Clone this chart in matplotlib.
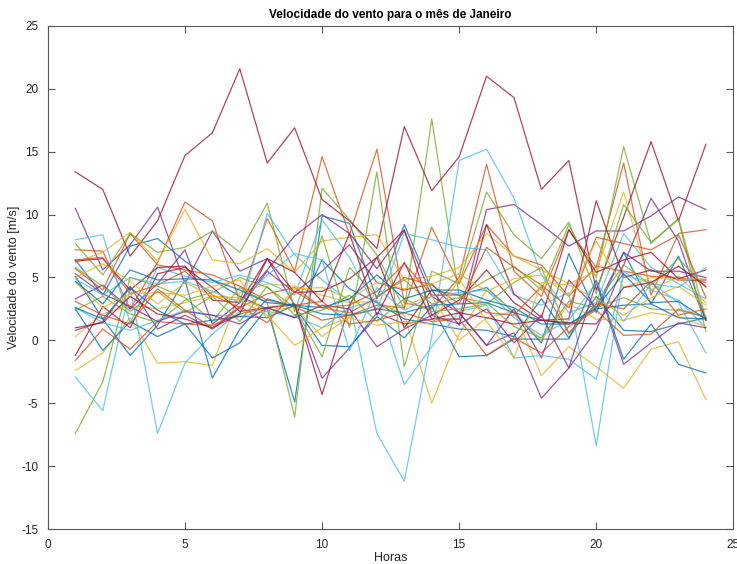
import numpy as np
import matplotlib.pyplot as plt

# Hours of the day (x axis)
horas = list(range(1, 25))

# Wind speed per hour for each day of January [m/s]
dia01 = [6.4, 3.6, 7.5, 8.1, 6.3, 4.8, 3.5, 2.5, -4.9, 9.9, 9.3, 3.3, 9.2, 4.0, 3.6, 4.2, 2.2, -0.2, 6.9, 2.2, 7.0, 2.9, 6.7, 1.6]
dia02 = [7.2, 7.1, 2.5, 6.2, 11.0, 9.5, 3.1, 9.7, 5.5, 14.6, 8.4, 15.2, 3.0, 2.5, 5.0, 14.0, 5.5, 3.5, 8.8, 5.8, 14.1, 3.6, 8.5, 8.8]
dia03 = [-2.4, -1.0, 1.8, -1.8, -1.7, -2.0, 3.8, 4.5, 4.3, 3.6, 3.0, 3.1, 2.0, -5.0, 0.5, 4.0, 2.3, -2.8, -0.5, -2.1, -3.8, -0.7, -0.1, -4.7]
dia04 = [10.5, 5.6, 7.6, 10.6, 4.5, 8.7, 5.5, 6.5, 2.8, -3.0, -0.6, 2.2, 1.3, 1.7, 1.7, 10.4, 10.8, 9.2, 7.5, 8.7, 8.7, 9.9, 11.4, 10.4]
dia05 = [-7.4, -3.3, 5.0, 4.3, 3.4, 1.5, 4.2, 3.0, -6.1, 12.1, 9.6, 6.8, 2.5, 17.6, 3.5, 4.8, 5.9, 4.0, 9.2, 5.0, 15.4, 7.7, 9.7, 1.7]
dia06 = [-2.9, -5.6, 4.2, -7.4, -1.8, 0.5, 2.3, 10.1, 6.8, 4.8, 3.1, -7.4, -11.2, 0.3, 14.3, 15.2, 11.3, 5.2, 2.2, 3.0, 8.5, 5.8, 4.5, 3.3]
dia07 = [13.4, 12.0, 6.7, 9.5, 14.7, 16.5, 21.6, 14.1, 16.9, 11.2, 9.5, 7.3, 17.0, 11.9, 14.6, 21.0, 19.3, 12.0, 14.3, 4.0, 9.8, 15.8, 9.5, 15.6]
dia08 = [2.5, -0.8, 1.5, 0.3, 1.3, -1.4, -0.2, 2.6, 1.8, 6.4, 4.1, 3.0, 1.7, 1.3, 0.9, 0.8, 0.3, 3.3, 0.2, 3.5, 0.8, 0.7, 1.3, 1.8]
dia09 = [5.7, 4.0, 8.5, 6.0, 5.6, 5.2, 4.3, 3.2, 2.7, 1.6, 2.0, 2.8, 2.6, 9.0, 4.5, 9.2, 6.7, 6.0, 3.5, 5.9, 5.5, 5.1, 5.0, 4.6]
dia10 = [6.2, 7.0, 8.6, 6.3, 10.4, 6.4, 6.1, 7.3, 5.4, 7.9, 8.2, 8.4, 4.8, 5.1, 5.8, 8.5, 6.7, 5.6, 4.5, 5.5, 11.8, 4.0, 5.1, 3.0]
dia11 = [3.3, 4.4, 2.5, 4.5, 7.2, 1.3, 3.0, 5.6, 8.3, 10.0, 8.5, 5.7, 8.7, 3.5, 2.2, -0.4, 0.6, -4.6, -2.2, 0.8, 6.0, 11.3, 7.9, 1.6]
dia12 = [7.7, 5.2, 8.5, 7.0, 7.4, 8.7, 7.0, 10.9, 2.3, 8.3, 1.0, 13.4, -2.1, 5.5, 4.5, 11.8, 8.4, 6.5, 9.4, 3.7, 10.8, 7.8, 9.6, 0.7]
dia13 = [8.0, 8.4, 1.4, 5.8, 5.1, 4.6, 5.2, 4.6, 3.6, 9.6, 6.6, 2.4, 8.5, 8.0, 7.4, 7.2, 3.6, 2.8, 3.8, -8.4, 5.5, 4.0, 3.2, 1.0]
dia14 = [6.3, 6.5, 4.0, 5.8, 5.9, 3.2, 3.0, 6.5, 3.8, 3.9, 4.9, 6.6, 8.8, 2.0, 3.2, 5.6, 3.0, 1.6, 1.7, 11.1, 5.0, 5.6, 4.8, 4.8]
dia15 = [5.1, 1.7, -1.2, 1.2, 4.8, -3.0, 0.9, 3.3, 2.7, -0.4, -0.5, 1.9, 0.2, 2.7, -1.3, -1.2, 0.1, 0.1, 0.1, 4.8, -1.5, 1.3, -1.9, -2.6]
dia16 = [-1.6, 0.9, -0.7, 1.5, 1.3, 1.2, 2.1, 2.6, 2.8, 3.1, 1.3, 1.6, 2.2, 1.5, 1.7, -1.2, 0.2, -1.0, 1.1, 2.4, 0.4, 0.5, 2.5, 1.8]
dia17 = [0.3, 2.1, 2.8, 2.5, 3.0, 3.5, 3.4, 2.4, 2.6, 0.3, 1.9, 2.5, 2.8, 3.5, 0.0, 1.8, 2.3, 0.0, 2.9, 1.7, 1.6, 2.2, 1.9, 1.1]
dia18 = [0.8, 1.5, 4.3, 0.9, 2.0, 0.9, 2.6, 5.5, 3.8, 5.5, 7.6, 4.6, 4.0, 4.5, 2.2, -0.4, 2.5, -1.4, 4.8, 2.6, 7.0, 5.5, 5.5, 5.0]
dia19 = [2.4, 3.5, 2.1, 1.4, 3.2, 3.8, 5.0, 4.2, 2.6, -1.3, 5.8, 3.5, 4.8, 2.9, 3.4, 3.0, 1.1, 0.2, 3.1, 2.6, 3.4, 2.5, 2.4, 1.9]
dia20 = [2.6, 1.4, 0.8, 1.6, 2.4, 2.0, 1.9, 2.3, 1.9, 1.0, 2.6, 3.2, -3.5, -0.5, 2.3, 2.8, -1.4, -1.2, -1.5, -3.1, 5.2, 4.6, 3.0, -1.0]
dia21 = [-1.2, 2.7, 1.0, 5.3, 5.8, 4.2, 2.3, 2.6, 2.9, -4.3, 2.8, 6.6, 1.0, 4.0, 1.2, 9.2, 3.7, 1.8, 8.8, 5.4, 6.4, 7.0, 4.9, 5.6]
dia22 = [2.6, 1.7, 4.2, 2.4, 1.3, 1.6, 1.9, 1.8, 2.8, 2.1, 2.0, 2.5, 2.2, 2.8, 2.9, 3.0, 2.2, 1.6, 1.3, 2.5, 2.8, 2.9, 1.8, 1.7]
dia23 = [6.4, 6.6, 3.7, 4.4, 5.5, 3.6, 2.6, 3.7, 4.2, 2.6, 2.2, 3.4, 5.0, 4.4, 2.9, 7.4, 5.8, 4.4, 2.6, 8.2, 7.7, 7.2, 8.4, 3.4]
dia24 = [4.6, 2.6, 3.7, 3.8, 3.6, 4.3, 4.8, 1.7, 4.1, 4.2, 3.3, 4.6, 4.1, 4.5, 5.3, 3.9, 4.9, 5.2, 3.5, 7.9, 4.2, 5.0, 4.8, 4.9]
dia25 = [5.3, 3.7, 2.7, 1.5, 2.3, 2.0, 1.3, 2.6, 1.8, 2.8, 2.5, -0.5, 0.9, 2.0, 1.3, 2.5, -0.2, 2.0, -2.2, 4.6, -1.9, -0.2, 1.4, 1.0]
dia26 = [5.8, 4.3, 2.3, 3.9, 2.2, 3.5, 1.5, 4.3, 2.0, 2.4, 3.6, 1.5, 3.3, 2.3, 2.5, 2.9, 4.6, 5.8, 0.5, 2.9, 6.0, 4.4, 6.5, 4.2]
dia27 = [4.9, 3.6, 5.0, 4.5, 4.7, 3.9, 3.0, 5.2, 6.9, 6.4, -0.8, 4.2, 2.4, 3.5, 3.8, 4.0, 1.8, 0.4, 1.6, 4.6, 1.5, 4.5, 4.2, 5.8]
dia28 = [1.0, 1.4, 3.5, 2.1, 1.7, 1.0, 2.1, 6.5, 5.4, 3.1, 8.5, 2.0, 6.2, 1.7, 2.2, 1.8, 1.3, 1.6, 1.4, 1.3, 4.2, 4.6, 5.9, 4.3]
dia29 = [4.7, 2.9, 5.6, 4.8, 4.9, 4.8, 4.0, 3.0, 2.8, 2.6, 3.3, 5.2, 3.3, 4.0, 4.0, 3.2, 2.6, 1.3, 1.3, 2.6, 5.3, 3.0, 3.1, 1.7]
dia30 = [3.1, 2.0, 1.3, 4.1, 2.4, 1.0, 2.7, 1.4, 3.9, 2.6, 2.8, 3.9, 6.1, 3.6, 3.6, 2.2, 2.0, 4.3, 0.6, 2.9, 2.5, 4.7, 2.0, 2.5]
dia31 = [5.0, 6.1, 4.7, 2.9, 4.6, 3.5, 3.2, 2.0, -0.4, 1.0, 1.8, 1.2, 1.5, 1.3, 4.9, 1.5, -1.4, 4.6, 4.4, 3.3, 2.0, 3.4, 4.3, 2.8]

dias = [dia01, dia02, dia03, dia04, dia05, dia06, dia07, dia08, dia09, dia10,
        dia11, dia12, dia13, dia14, dia15, dia16, dia17, dia18, dia19, dia20,
        dia21, dia22, dia23, dia24, dia25, dia26, dia27, dia28, dia29, dia30, dia31]

# MATLAB default colour order
cores = [(0, 0.447, 0.741), (0.85, 0.325, 0.098), (0.929, 0.694, 0.125),
         (0.494, 0.184, 0.556), (0.466, 0.674, 0.188), (0.301, 0.745, 0.933),
         (0.635, 0.078, 0.184)]

plt.rcParams['font.family'] = ['Liberation Sans', 'DejaVu Sans']
plt.rcParams['axes.unicode_minus'] = False

fig = plt.figure(figsize=(7.37, 5.64), dpi=100)
ax = fig.add_axes([0.065, 0.062, 0.930, 0.892])

for i, d in enumerate(dias):
    ax.plot(horas, d, color=cores[i % 7], linewidth=0.9, alpha=0.8)

ax.set_xlim(0, 25)
ax.set_ylim(-15, 25)
ax.set_xticks([0, 5, 10, 15, 20, 25])
ax.set_yticks([-15, -10, -5, 0, 5, 10, 15, 20, 25])

grey = (0.15, 0.15, 0.15)
for s in ax.spines.values():
    s.set_color((0.35, 0.35, 0.35))
    s.set_linewidth(0.8)
ax.tick_params(direction='in', top=True, right=True, length=5, width=0.8,
               colors=(0.35, 0.35, 0.35), labelcolor=grey, labelsize=8.5, pad=7)

ax.set_title('Velocidade do vento para o mês de Janeiro', fontsize=8.5,
             fontweight='bold', color='black', pad=6)
ax.set_xlabel('Horas', fontsize=9, color=grey, labelpad=1)
ax.set_ylabel('Velocidade do vento [m/s]', fontsize=9, color=grey, labelpad=1)

fig.savefig('out.png', dpi=100)
